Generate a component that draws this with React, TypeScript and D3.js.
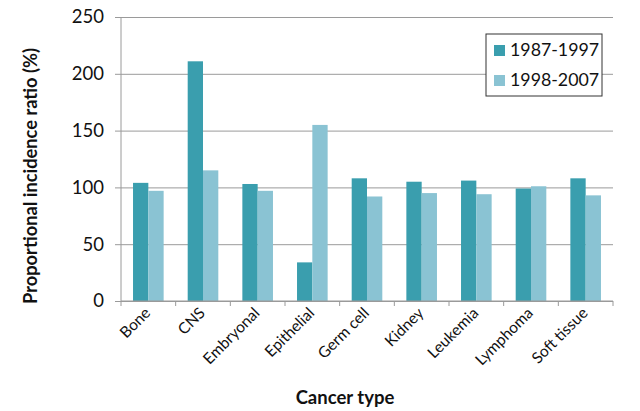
import { useRef, useEffect } from 'react';
import * as d3 from 'd3';

const categories = ['Bone', 'CNS', 'Embryonal', 'Epithelial', 'Germ cell', 'Kidney', 'Leukemia', 'Lymphoma', 'Soft tissue'];
const seriesNames = ['1987-1997', '1998-2007'];
const period1 = [104, 211, 103, 34, 108, 105, 106, 99, 108];
const period2 = [97, 115, 97, 155, 92, 95, 94, 101, 93];
const yTicks = [0, 50, 100, 150, 200, 250];
const colors = ['#3a9eae', '#8ac3d3'];

const FONT = 'Lato, "Open Sans", sans-serif';

export default function App() {
  const ref = useRef<SVGSVGElement>(null);
  const width = 640;
  const height = 411;
  const margin = { top: 17, right: 27, bottom: 110, left: 121 };
  const innerWidth = width - margin.left - margin.right;
  const innerHeight = height - margin.top - margin.bottom;

  useEffect(() => {
    const svg = d3.select(ref.current);
    svg.selectAll('*').remove();

    const x = d3.scaleBand<string>().domain(categories).range([0, innerWidth]);
    const x1 = d3.scaleBand<number>().domain([0, 1]).range([x.bandwidth() * 0.22, x.bandwidth() * 0.78]);
    const y = d3.scaleLinear().domain([0, 250]).range([innerHeight, 0]);

    const g = svg.append('g').attr('transform', `translate(${margin.left},${margin.top})`);

    // gridlines + y axis
    const yAxis = d3.axisLeft(y).tickValues(yTicks).tickSize(-innerWidth).tickPadding(17);
    const ya = g.append('g').call(yAxis);
    ya.select('.domain').remove();
    ya.selectAll('.tick line').attr('stroke', '#9a9a9a').attr('stroke-width', 1).attr('x1', -6);
    ya.selectAll('.tick text').attr('font-family', FONT).attr('font-size', 18.5).attr('fill', '#111');
    g.append('line').attr('x1', 0).attr('x2', 0).attr('y1', 0).attr('y2', innerHeight).attr('stroke', '#9a9a9a');

    // bars
    const data = categories.map((c, i) => ({ c, vals: [period1[i], period2[i]] }));
    const grp = g.selectAll('.cat').data(data).enter().append('g').attr('transform', (d) => `translate(${x(d.c)},0)`);
    grp.selectAll('rect')
      .data((d) => d.vals.map((v, k) => ({ v, k })))
      .enter()
      .append('rect')
      .attr('x', (d) => x1(d.k)!)
      .attr('width', x1.bandwidth())
      .attr('y', (d) => y(d.v))
      .attr('height', (d) => innerHeight - y(d.v))
      .attr('fill', (d) => colors[d.k]);

    // x axis
    const xa = g.append('g').attr('transform', `translate(0,${innerHeight})`);
    xa.append('line').attr('x1', 0).attr('x2', innerWidth).attr('stroke', '#9a9a9a');
    xa.selectAll('.tk')
      .data(d3.range(categories.length + 1))
      .enter()
      .append('line')
      .attr('x1', (i) => i * x.step())
      .attr('x2', (i) => i * x.step())
      .attr('y1', 0)
      .attr('y2', 5)
      .attr('stroke', '#9a9a9a');
    xa.selectAll('.lbl')
      .data(categories)
      .enter()
      .append('text')
      .attr('transform', (d) => `translate(${x(d)! + x.bandwidth() / 2 + 3},${13}) rotate(-45)`)
      .attr('text-anchor', 'end')
      .attr('font-family', FONT)
      .attr('font-size', 15.5)
      .attr('fill', '#111')
      .text((d) => d);

    // axis titles
    svg.append('text')
      .attr('transform', `translate(37,176) rotate(-90)`)
      .attr('text-anchor', 'middle')
      .attr('font-family', FONT)
      .attr('font-weight', 'bold')
      .attr('font-size', 18.3)
      .attr('fill', '#111')
      .text('Proportional incidence ratio (%)');
    svg.append('text')
      .attr('x', 345)
      .attr('y', 404)
      .attr('text-anchor', 'middle')
      .attr('font-family', FONT)
      .attr('font-weight', 'bold')
      .attr('font-size', 18.5)
      .attr('fill', '#111')
      .text('Cancer type');

    // legend
    const lg = svg.append('g').attr('transform', 'translate(486,34)');
    lg.append('rect').attr('width', 116).attr('height', 62).attr('fill', '#fff').attr('stroke', '#333').attr('stroke-width', 1);
    seriesNames.forEach((s, i) => {
      lg.append('rect').attr('x', 8).attr('y', 11 + i * 30).attr('width', 11).attr('height', 11).attr('fill', colors[i]);
      lg.append('text')
        .attr('x', 24)
        .attr('y', 22 + i * 30)
        .attr('font-family', FONT)
        .attr('font-size', 17.8)
        .attr('fill', '#111')
        .text(s);
    });
  }, []);

  return <svg ref={ref} width={width} height={height} style={{ position: 'absolute', left: 0, top: 0 }}></svg>;
}
